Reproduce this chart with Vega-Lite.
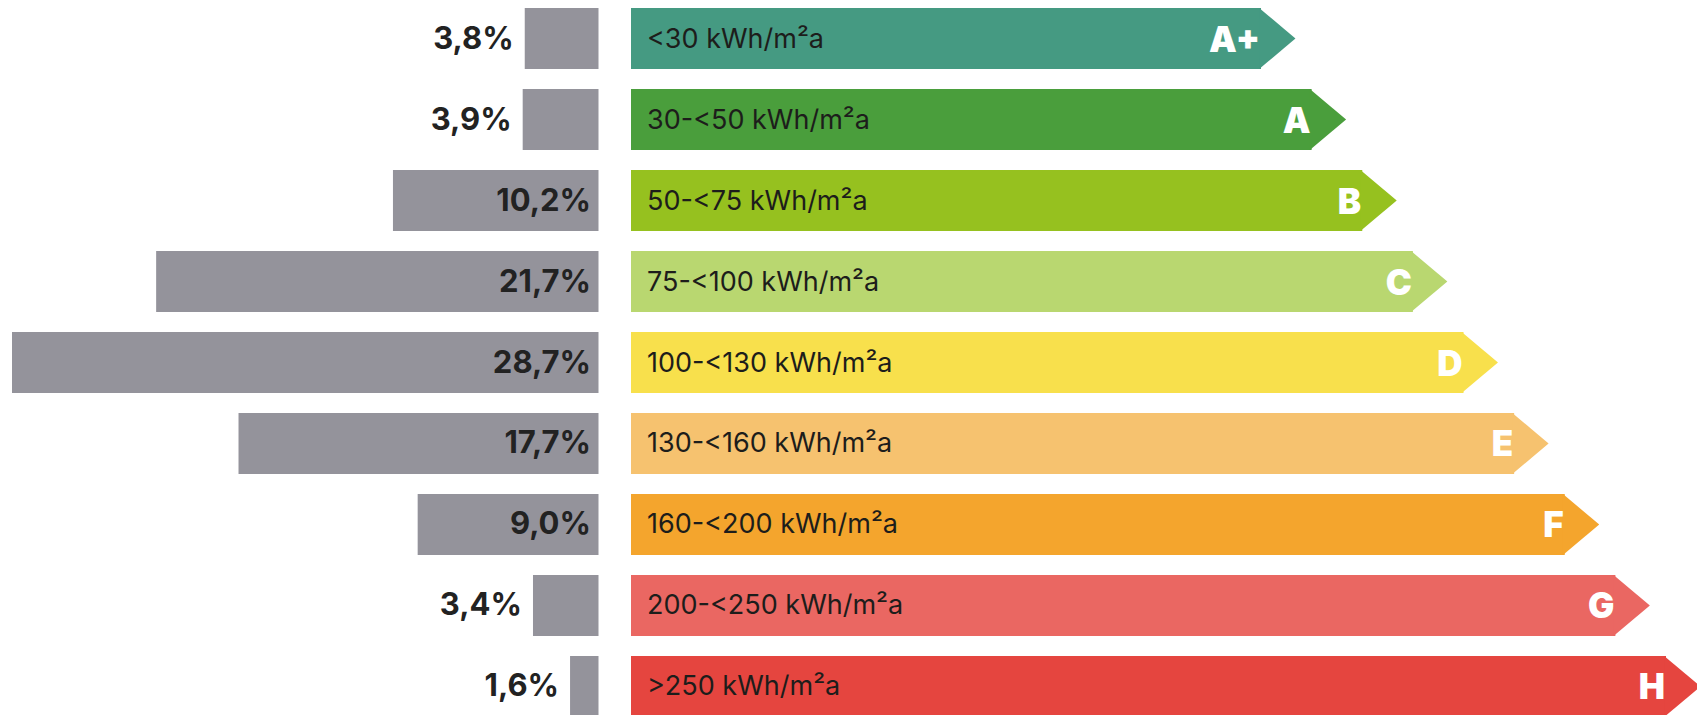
{
  "$schema": "https://vega.github.io/schema/vega-lite/v6.json",
  "width": 1697,
  "height": 715,
  "padding": 0,
  "autosize": {"type": "none"},
  "background": "white",
  "config": {
    "view": {"stroke": null},
    "locale": {"number": {"decimal": ",", "thousands": ".", "grouping": [3], "currency": ["", " €"]}}
  },
  "data": {
    "values": [
      {"klasse": "A+", "bereich": "<30 kWh/m²a", "anteil": 0.038},
      {"klasse": "A", "bereich": "30-<50 kWh/m²a", "anteil": 0.039},
      {"klasse": "B", "bereich": "50-<75 kWh/m²a", "anteil": 0.102},
      {"klasse": "C", "bereich": "75-<100 kWh/m²a", "anteil": 0.217},
      {"klasse": "D", "bereich": "100-<130 kWh/m²a", "anteil": 0.287},
      {"klasse": "E", "bereich": "130-<160 kWh/m²a", "anteil": 0.177},
      {"klasse": "F", "bereich": "160-<200 kWh/m²a", "anteil": 0.09},
      {"klasse": "G", "bereich": "200-<250 kWh/m²a", "anteil": 0.034},
      {"klasse": "H", "bereich": ">250 kWh/m²a", "anteil": 0.016}
    ]
  },
  "encoding": {
    "y": {
      "field": "klasse",
      "type": "nominal",
      "axis": null,
      "sort": ["A+", "A", "B", "C", "D", "E", "F", "G", "H"],
      "scale": {"domain": ["A+", "A", "B", "C", "D", "E", "F", "G", "H"], "range": [8, 717], "paddingInner": 0.2469, "paddingOuter": 0}
    }
  },
  "layer": [
    {
      "encoding": {
        "x": {"field": "anteil", "type": "quantitative", "axis": null, "scale": {"domain": [0, 0.287], "range": [603, 12], "zero": false, "nice": false}}
      },
      "layer": [
        {
          "mark": {"type": "bar", "color": "#94939b", "x2Offset": -4.5},
          "encoding": {"x2": {"datum": 0}}
        },
        {
          "transform": [{"filter": "datum.anteil >= 0.05"}],
          "mark": {"type": "text", "align": "right", "baseline": "middle", "dx": -12, "dy": 1, "font": "Inter", "fontWeight": "bold", "fontSize": 31, "color": "#222222"},
          "encoding": {
            "x": {"datum": 0, "type": "quantitative", "axis": null, "scale": {"domain": [0, 0.287], "range": [603, 12], "zero": false, "nice": false}},
            "text": {"field": "anteil", "type": "quantitative", "format": ".1%"}
          }
        },
        {
          "transform": [{"filter": "datum.anteil < 0.05"}],
          "mark": {"type": "text", "align": "right", "baseline": "middle", "dx": -11, "dy": 1, "font": "Inter", "fontWeight": "bold", "fontSize": 31, "color": "#222222"},
          "encoding": {
            "text": {"field": "anteil", "type": "quantitative", "format": ".1%"}
          }
        }
      ]
    },
    {
      "encoding": {
        "x": {"field": "klasse", "type": "ordinal", "axis": null, "scale": {"type": "point", "domain": ["A+", "A", "B", "C", "D", "E", "F", "G", "H"], "range": [1261, 1666], "padding": 0}},
        "color": {
          "field": "klasse",
          "type": "nominal",
          "legend": null,
          "scale": {
            "domain": ["A+", "A", "B", "C", "D", "E", "F", "G", "H"],
            "range": ["#459a82", "#4a9e3c", "#96c11f", "#b9d770", "#f8e04c", "#f6c26f", "#f4a52d", "#ea6762", "#e5453f"]
          }
        }
      },
      "layer": [
        {
          "mark": {"type": "bar"},
          "encoding": {"x2": {"value": 631}}
        },
        {
          "mark": {"type": "point", "shape": "M-0.06,-1L1.13,0L-0.06,1Z", "filled": true, "opacity": 1, "strokeWidth": 0, "size": 3721}
        },
        {
          "mark": {"type": "text", "align": "left", "baseline": "middle", "dy": 1, "font": "Inter", "fontSize": 27, "color": "#1d1d1b"},
          "encoding": {
            "x": {"value": 647},
            "text": {"field": "bereich"},
            "color": {"value": "#1d1d1b"}
          }
        },
        {
          "mark": {"type": "text", "align": "right", "baseline": "middle", "dx": -1, "dy": 2, "font": "Inter", "fontWeight": 900, "fontSize": 35, "color": "white"},
          "encoding": {
            "text": {"field": "klasse"},
            "color": {"value": "white"}
          }
        }
      ]
    }
  ],
  "resolve": {"scale": {"x": "independent"}}
}
